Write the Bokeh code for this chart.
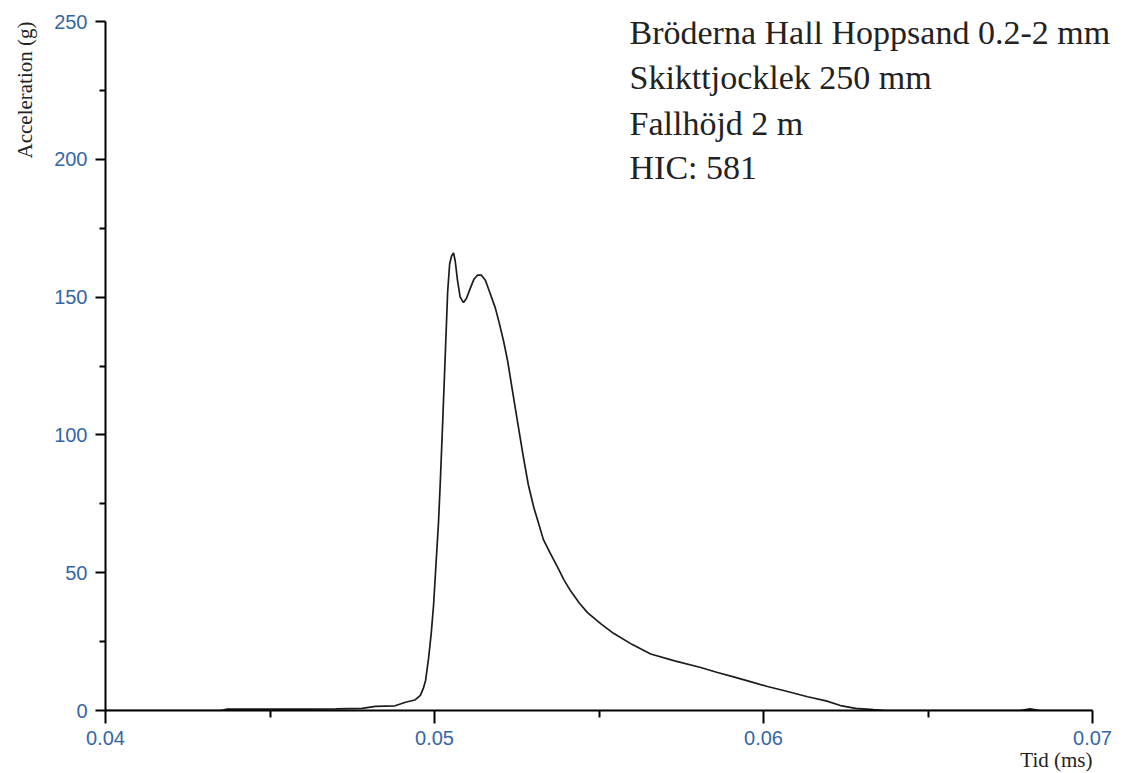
from bokeh.plotting import figure
from bokeh.models import Range1d, FixedTicker, Label, Title
from bokeh.embed import file_html
from bokeh.resources import INLINE

# ---- data ----
time_ms = [0.0400, 0.0435, 0.0437, 0.0460, 0.0470, 0.0478, 0.0482, 0.0488, 0.04912,
           0.04940, 0.04957, 0.04966, 0.04973, 0.04982, 0.04990, 0.04997, 0.05003,
           0.05012, 0.05018, 0.05024, 0.05033, 0.05040, 0.05046, 0.05052, 0.05058,
           0.05063, 0.05070, 0.05078, 0.05088, 0.05097, 0.05108, 0.05120, 0.05131,
           0.05142, 0.05155, 0.05167, 0.05185, 0.05198, 0.05210, 0.05222, 0.05237,
           0.05252, 0.05270, 0.05285, 0.05301, 0.05316, 0.05331, 0.05352, 0.05374,
           0.05393, 0.05413, 0.05440, 0.05465, 0.05505, 0.05544, 0.05600, 0.05657,
           0.05730, 0.05809, 0.05860, 0.05909, 0.05960, 0.06012, 0.06070, 0.06134,
           0.06190, 0.06234, 0.06280, 0.06334, 0.06370, 0.06780, 0.06810, 0.06840,
           0.07000]
accel_g = [0.0, 0.0, 0.5, 0.5, 0.6, 0.8, 1.5, 1.7, 3.0,
           3.8, 5.5, 8.0, 11.0, 19.0, 28.0, 38.0, 50.0,
           68.0, 84.0, 102.0, 130.0, 152.0, 162.0, 165.0, 166.0,
           163.0, 156.0, 150.0, 148.0, 149.5, 153.0, 156.5, 158.0,
           158.0, 156.0, 152.0, 146.0, 140.0, 134.0, 127.0, 116.0,
           105.0, 92.0, 82.0, 74.0, 68.0, 62.0, 57.0, 52.0,
           47.5, 43.5, 39.0, 35.5, 31.5, 28.0, 24.0, 20.5,
           18.0, 15.6, 13.8, 12.2, 10.5, 8.7, 7.0, 5.0,
           3.5, 1.8, 0.8, 0.3, 0.0, 0.0, 0.6, 0.0,
           0.0]

x_ticks = [0.04, 0.05, 0.06, 0.07]
x_tick_labels = ["0.04", "0.05", "0.06", "0.07"]
x_minor = [0.045, 0.055, 0.065]
y_ticks = [0, 50, 100, 150, 200, 250]
y_tick_labels = ["0", "50", "100", "150", "200", "250"]
y_minor = [25, 75, 125, 175, 225]

info_lines = ["Bröderna Hall Hoppsand 0.2-2 mm", "Skikttjocklek 250 mm",
              "Fallhöjd 2 m", "HIC: 581"]
y_title = "Acceleration (g)"
x_title = "Tid (ms)"

TICK_COLOR = "#3466a6"
SERIF = "Liberation Serif"
SANS = "Liberation Sans"

# the frame runs a little past 0.07 so the text block is not clipped;
# the x axis itself is bounded to 0.04 .. 0.07
p = figure(width=1126, height=773, output_backend="svg", toolbar_location=None,
           x_range=Range1d(0.04, 0.07085), y_range=Range1d(0, 250),
           min_border_left=105, min_border_right=6, min_border_top=21,
           min_border_bottom=62)
p.outline_line_color = None
p.xgrid.grid_line_color = None
p.ygrid.grid_line_color = None
p.background_fill_color = "white"
p.border_fill_color = "white"

p.line(time_ms, accel_g, line_color="#1c1c1c", line_width=1.7)

p.xaxis.ticker = FixedTicker(ticks=x_ticks, minor_ticks=x_minor)
p.xaxis.major_label_overrides = {t: l for t, l in zip(x_ticks, x_tick_labels)}
p.xaxis.bounds = (x_ticks[0], x_ticks[-1])
p.yaxis.ticker = FixedTicker(ticks=y_ticks, minor_ticks=y_minor)
p.yaxis.major_label_overrides = {t: l for t, l in zip(y_ticks, y_tick_labels)}

for ax in (p.xaxis[0], p.yaxis[0]):
    ax.axis_line_color = "black"
    ax.axis_line_width = 2
    ax.major_tick_line_color = "black"
    ax.minor_tick_line_color = "black"
    ax.major_tick_line_width = 2
    ax.minor_tick_line_width = 2
    ax.major_tick_in = 0
    ax.minor_tick_in = 0
    ax.major_label_text_color = TICK_COLOR
    ax.major_label_text_font = SANS
    ax.major_label_text_font_size = "20px"

p.xaxis.major_tick_out = 13
p.xaxis.minor_tick_out = 7
p.xaxis.major_label_standoff = 7
p.yaxis.major_tick_out = 10
p.yaxis.minor_tick_out = 6
p.yaxis.major_label_standoff = 8

# y axis title, at the top end of the left side
p.add_layout(Title(text=y_title, align="right", vertical_align="top",
                   text_font=SERIF, text_font_size="21px", text_font_style="normal",
                   text_color="#222222", standoff=25), "left")

# x axis title at the right end (at 0.07), below the axis
p.add_layout(Title(text=x_title, align="right", vertical_align="top", offset=28,
                   text_font=SERIF, text_font_size="21px", text_font_style="normal",
                   text_color="#222222", standoff=0), "below")

# info text block
baselines = [678, 633, 587, 543]
for txt, yb in zip(info_lines, baselines):
    p.add_layout(Label(x=524, y=yb, x_units="screen", y_units="screen", text=txt,
                       text_align="left", text_baseline="alphabetic",
                       text_font=SERIF, text_font_size="34px", text_color="#222222"))

open("out.html", "w").write(file_html(p, INLINE))
